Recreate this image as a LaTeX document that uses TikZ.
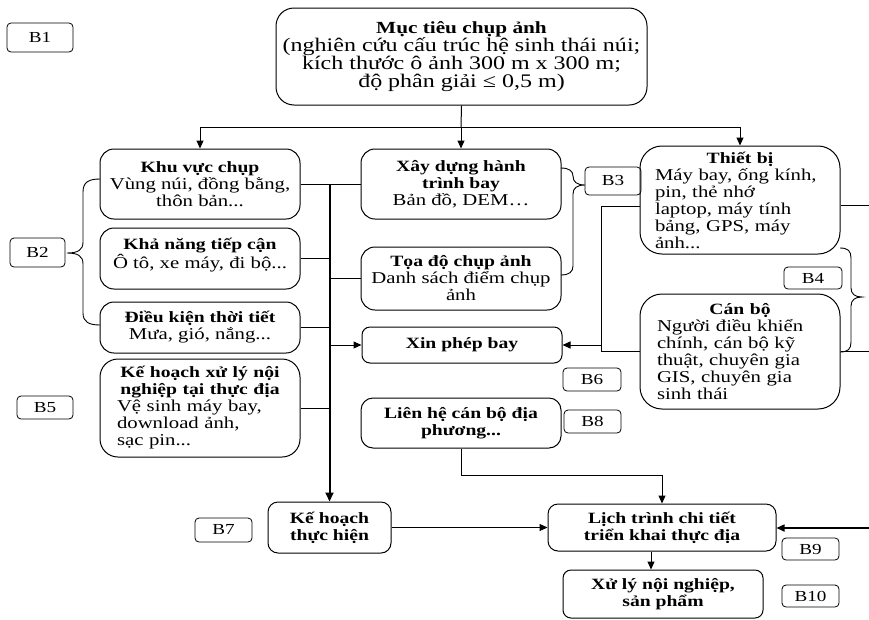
\documentclass[tikz,border=0pt]{standalone}
\usepackage{fontspec}
\setmainfont{Liberation Serif}[FakeStretch=1.25]
\usetikzlibrary{arrows.meta,calc}
\newcommand\fsz{\fontsize{16.6}{17}\selectfont}
\newcommand\topz{\fontsize{19.2}{18}\selectfont}
\newcommand\labz{\fontsize{15.3}{16}\selectfont}
\newcommand\bfz[1]{{\fontsize{15.7}{17}\selectfont\bfseries #1}}
\begin{document}
\begin{tikzpicture}[x=1pt,y=-1pt,
  box/.style={draw, line width=1pt, rounded corners=#1, inner sep=0pt, align=center, font=\fsz, minimum width=200pt},
  box/.default=12pt,
  lab/.style={draw, line width=0.8pt, rounded corners=4pt, inner sep=0pt, minimum width=57pt, minimum height=23pt, font=\labz},
  conn/.style={line width=1pt},
  bus/.style={line width=2pt},
  arr/.style={line width=1pt, -{Triangle[length=8pt,width=7pt]}},
  brace/.style={line width=0.9pt}]
\useasboundingbox (0,0) rectangle (869,619);

% top
\node[box=18pt, minimum width=371pt, minimum height=97pt, font=\topz] (top) at (461.5,56.5)
  {{\fontsize{17}{18}\selectfont\bfseries Mục tiêu chụp ảnh}\\(nghiên cứu cấu trúc hệ sinh thái núi;\\kích thước ô ảnh 300 m x 300 m;\\độ phân giải ≤ 0,5 m)};
\node[lab, minimum width=66pt, minimum height=29pt] (b1) at (40,37.5) {B1};

% left column
\node[box=14pt, minimum height=70pt] (khu) at (200,184) {\bfz{Khu vực chụp}\\Vùng núi, đồng bằng,\\thôn bản...};
\node[box=14pt, minimum height=61pt] (kha) at (200,258.5) {\bfz{Khả năng tiếp cận}\\Ô tô, xe máy, đi bộ...\\[-6pt]};
\node[box=14pt, minimum height=51pt] (dieu) at (200,327.5) {\bfz{Điều kiện thời tiết}\\Mưa, gió, nắng...};
\node[box=18pt, minimum height=98pt, text width=166pt, align=left] (xlnn) at (200,408)
  {{\centering\bfz{Kế hoạch xử lý nội}\\\bfz{nghiệp tại thực địa}\par}\noindent Vệ sinh máy bay,\\download ảnh,\\sạc pin...};
\node[lab, minimum width=55pt, minimum height=29pt] (b2) at (37.5,252.5) {B2};
\node[lab, minimum width=56pt, minimum height=23pt] (b5) at (45,407.5) {B5};

% middle column
\node[box=14pt, minimum height=70pt] (xay) at (461,184) {\bfz{Xây dựng hành}\\\bfz{trình bay}\\Bản đồ, DEM…};
\node[box=14pt, minimum height=63pt] (toa) at (461,278.5) {\bfz{Tọa độ chụp ảnh}\\Danh sách điểm chụp\\ảnh};
\node[box=8pt, minimum height=36pt] (xin) at (462,345) {\bfz{Xin phép bay}};
\node[box=12pt, minimum height=50pt] (lien) at (461,423) {\bfz{Liên hệ cán bộ địa}\\\bfz{phương...}};
\node[lab, minimum width=56pt, minimum height=28pt] (b3) at (613,181) {B3};
\node[lab, minimum width=58pt] (b6) at (592,379.5) {B6};
\node[lab, minimum width=57pt] (b8) at (592.5,421.5) {B8};

% right column
\node[box=22pt, minimum height=108pt, text width=170pt, align=left] (thiet) at (740,200)
  {{\centering\bfz{Thiết bị}\par}\noindent Máy bay, ống kính,\\pin, thẻ nhớ\\laptop, máy tính\\bảng, GPS, máy\\ảnh...};
\node[lab, minimum width=58pt, minimum height=22pt] (b4) at (813,278) {B4};
\node[box=22pt, minimum height=115pt, text width=166pt, align=left] (canbo) at (740,351.5)
  {{\centering\bfz{Cán bộ}\par}\noindent Người điều khiển\\chính, cán bộ kỹ\\thuật, chuyên gia\\GIS, chuyên gia\\sinh thái};

% bottom
\node[box=10pt, minimum width=123pt, minimum height=51pt] (kht) at (329.5,527.5) {\bfz{Kế hoạch}\\\bfz{thực hiện}};
\node[lab, minimum height=24pt] (b7) at (223.5,530) {B7};
\node[box=10pt, minimum width=228pt, minimum height=47pt] (lich) at (662,527.5) {\bfz{Lịch trình chi tiết}\\\bfz{triển khai thực địa}};
\node[lab, minimum height=22pt] (b9) at (810.5,549) {B9};
\node[box=8pt, minimum height=48pt] (xuly) at (663,594) {\bfz{Xử lý nội nghiệp,}\\\bfz{sản phẩm}};
\node[lab, minimum height=22pt] (b10) at (810.5,596) {B10};

% top distribution
\coordinate (tj) at (461,127);
\draw[conn] (top.south) -- (tj);
\draw[conn] (khu.north |- tj) -- (thiet.north |- tj);
\draw[arr] (khu.north |- tj) -- (khu.north);
\draw[arr] (xay.north |- tj) -- (xay.north);
\draw[arr] (thiet.north |- tj) -- (thiet.north);

% bus
\draw[conn] (khu.east) -- (xay.west);
\draw[bus, -{Triangle[length=9pt,width=8pt]}] (kht.north |- khu.east) -- (kht.north);
\draw[conn] (kha.east) -- (kha.east -| kht.north);
\draw[conn] (toa.west) -- (toa.west -| kht.north);
\draw[conn] (dieu.east) -- (dieu.east -| kht.north);
\draw[arr] (xin.west -| kht.north) -- (xin.west);
\draw[conn] (xlnn.east) -- (xlnn.east -| kht.north);

% right bracket
\coordinate (rt) at (601,206);
\draw[conn] ($(thiet.west)+(0,6)$) -- (rt) -- (rt |- canbo.west) -- (canbo.west);
\draw[arr] (rt |- xin.east) -- (xin.east);

% right edge
\coordinate (e1) at (869,205);
\coordinate (e2) at (869,352);
\coordinate (e3) at (869,528);
\draw[conn] ($(thiet.east)+(0,5)$) -- (e1);
\draw[conn] (canbo.east) -- (canbo.east -| e2);
\draw[line width=1.6pt, -{Triangle[length=8pt,width=7pt]}] (e3) -- (e3 -| lich.east);

% lower connectors
\draw[arr] (kht.east) -- (lich.west);
\draw[arr] (lien.south) -- ++(0,27) -| (lich.north);
\draw[arr] ($(lich.south)+(-11,0)$) -- ($(xuly.north)+(-12,0)$);

% braces
\draw[brace] (100,179) .. controls (89,179) and (83,182) .. (83,192) -- (83,242)
  .. controls (83,250) and (78,253) .. (67,253) .. controls (78,253) and (83,256) .. (83,264)
  -- (83,313) .. controls (83,322) and (89,325) .. (100,325);
\draw[brace] (561,168) .. controls (569,168) and (573,171) .. (573,176)
  .. controls (573,182) and (577,185) .. (585,185) .. controls (577,185) and (573,188) .. (573,194)
  -- (573,266) .. controls (573,272) and (569,275) .. (561,275);
\draw[brace] (840,248) .. controls (848,248) and (851,251) .. (851,258) -- (851,288)
  .. controls (851,294) and (855,297) .. (862,297) .. controls (855,297) and (851,300) .. (851,306)
  -- (851,342) .. controls (851,349) and (848,352) .. (840,352);
\end{tikzpicture}
\end{document}
